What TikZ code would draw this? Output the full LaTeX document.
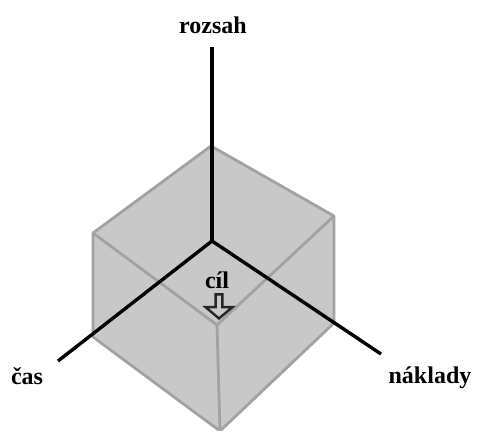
\documentclass[tikz,border=0pt]{standalone}
\usepackage{fontspec}
\setmainfont{Liberation Serif}
\usetikzlibrary{shapes.arrows}

\begin{document}
\begin{tikzpicture}[
    x=1pt, y=-1pt,
    % styles
    edge/.style={draw=cubeedge, line width=2.8pt, line join=round},
    axis/.style={draw=black, line width=3.4pt},
    label/.style={font=\bfseries\fontsize{24}{26}\selectfont, inner sep=0pt, anchor=base, text=black},
    goal/.style={single arrow, draw=black!85, fill=cubefill, line width=2.4pt, rotate=-90, minimum height=24pt, minimum width=27pt, single arrow head extend=3.5pt, single arrow tip angle=100, inner sep=0pt}
]
\definecolor{cubefill}{HTML}{C8C8C8}
\definecolor{cubeedge}{HTML}{A2A2A2}
\useasboundingbox (0,0) rectangle (480,431);

% ====================
% cube
% ====================
\coordinate (top) at (211,146);
\coordinate (ltop) at (93,233);
\coordinate (rtop) at (334,216);
\coordinate (front) at (217,325);
\coordinate (lbot) at (93,337);
\coordinate (rbot) at (334,323);
\coordinate (bot) at (220,431);

\begin{scope}
    \clip (0,0) rectangle (480,431);
    \fill[cubefill] (top) -- (rtop) -- (rbot) -- (bot) -- (lbot) -- (ltop) -- cycle;
    \draw[edge] (top) -- (rtop) -- (rbot) -- (bot) -- (lbot) -- (ltop) -- cycle;
    \draw[edge] (ltop) -- (front);
    \draw[edge] (rtop) -- (front);
    \draw[edge] (front) -- (bot);
\end{scope}

% ====================
% axes
% ====================
\coordinate (origin) at (212,241);
\node[label] (rozsah) at (213,33) {rozsah};
\node[label] (cas) at (27,384) {čas};
\node[label] (naklady) at (430,383) {náklady};
\coordinate (rozsahend) at (212,47);
\coordinate (casend) at (58,361);
\coordinate (nakladyend) at (381,354);

\draw[axis] (origin) -- (rozsahend);
\draw[axis] (origin) -- (casend);
\draw[axis] (origin) -- (nakladyend);

% ====================
% goal
% ====================
\node[label] (cil) at (217,288) {cíl};
\node[goal] (sipka) at (219,305) {};

\end{tikzpicture}
\end{document}
